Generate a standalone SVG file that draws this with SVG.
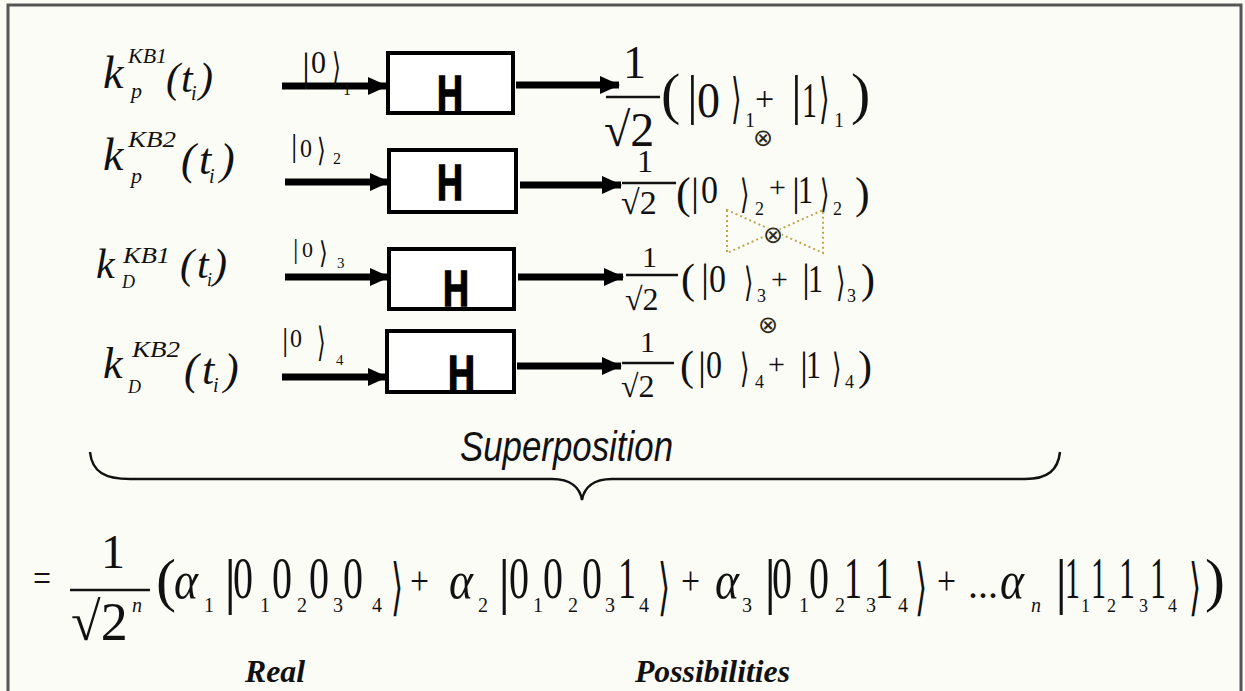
<svg xmlns="http://www.w3.org/2000/svg" width="1245" height="691" viewBox="0 0 1245 691">
<style>
.m{font-family:"Liberation Serif","DejaVu Serif",serif;fill:#111}
.i{font-style:italic}
.b{font-weight:bold}
.ab{font-family:"DejaVu Serif",serif;fill:#111}
.h{font-family:"Liberation Sans",Arial,sans-serif;font-weight:bold;fill:#000;stroke:#000;stroke-width:1.5}
.box{fill:#fff;stroke:#000;stroke-width:4}
.arr{stroke:#000;stroke-width:7;fill:none}
.fr{stroke:#111;stroke-width:2.5}
.ot{font-family:"DejaVu Sans",sans-serif;fill:#2e2a18}
</style>
<defs>
<marker id="ah" markerUnits="userSpaceOnUse" markerWidth="20" markerHeight="20" refX="19" refY="9" orient="auto">
<path d="M0,0 L20,9 L0,18 z" fill="#000"/>
</marker>
</defs>
<rect x="0" y="0" width="1245" height="691" fill="#fcfcf7"/>
<path d="M8,695 V5 H1241 V695" fill="none" stroke="#555" stroke-width="3"/>

<g id="label-1">
<text class="m i" x="103" y="88" font-size="46">k</text>
<text class="m i" x="128" y="63" font-size="21" textLength="39" lengthAdjust="spacingAndGlyphs">KB1</text>
<text class="m i" x="131" y="98" font-size="22">p</text>
<text class="m i" x="166" y="92" font-size="42">(</text>
<text class="m i" x="181" y="92" font-size="42">t</text>
<text class="m i" x="191" y="100" font-size="20">i</text>
<text class="m i" x="199" y="92" font-size="42">)</text>
</g>
<g id="label-2">
<text class="m i" x="103" y="170" font-size="46">k</text>
<text class="m i" x="128" y="147" font-size="23" textLength="48" lengthAdjust="spacingAndGlyphs">KB2</text>
<text class="m i" x="131" y="183" font-size="22">p</text>
<text class="m i" x="181" y="174" font-size="44">(</text>
<text class="m i" x="199" y="174" font-size="44">t</text>
<text class="m i" x="209" y="183" font-size="20">i</text>
<text class="m i" x="220" y="174" font-size="44">)</text>
</g>
<g id="label-3">
<text class="m i" x="96" y="278" font-size="42">k</text>
<text class="m i" x="123" y="263" font-size="23" textLength="47" lengthAdjust="spacingAndGlyphs">KB1</text>
<text class="m i" x="122" y="288" font-size="18">D</text>
<text class="m i" x="180" y="278" font-size="42">(</text>
<text class="m i" x="197" y="278" font-size="42">t</text>
<text class="m i" x="207" y="286" font-size="18">i</text>
<text class="m i" x="213" y="278" font-size="42">)</text>
</g>
<g id="label-4">
<text class="m i" x="103" y="378" font-size="44">k</text>
<text class="m i" x="132" y="357" font-size="23" textLength="48" lengthAdjust="spacingAndGlyphs">KB2</text>
<text class="m i" x="128" y="393" font-size="18">D</text>
<text class="m i" x="184" y="384" font-size="44">(</text>
<text class="m i" x="202" y="384" font-size="44">t</text>
<text class="m i" x="213" y="392" font-size="20">i</text>
<text class="m i" x="224" y="384" font-size="44">)</text>
</g>

<g id="connectors">
<line class="arr" x1="282" y1="86" x2="387" y2="86" marker-end="url(#ah)"/>
<line class="arr" x1="285" y1="182" x2="389" y2="182" marker-end="url(#ah)"/>
<line class="arr" x1="285" y1="277" x2="389" y2="277" marker-end="url(#ah)"/>
<line class="arr" x1="282" y1="377" x2="387" y2="377" marker-end="url(#ah)"/>
<line class="arr" x1="516" y1="85" x2="619" y2="85" marker-end="url(#ah)"/>
<line class="arr" x1="520" y1="185" x2="621" y2="185" marker-end="url(#ah)"/>
<line class="arr" x1="518" y1="277" x2="623" y2="277" marker-end="url(#ah)"/>
<line class="arr" x1="517" y1="366" x2="621" y2="366" marker-end="url(#ah)"/>
<g id="ket-in-1">
<text class="m" x="302" y="80" font-size="40">|</text>
<text class="m" x="311" y="73" font-size="32" textLength="15" lengthAdjust="spacingAndGlyphs">0</text>
<text class="ab" transform="translate(332,80) scale(0.6,1)" font-size="38">⟩</text>
<text class="m" x="343" y="95" font-size="16">1</text>
</g>
<g id="ket-in-2">
<text class="m" x="291" y="156" font-size="32">|</text>
<text class="m" x="300" y="157" font-size="26" textLength="12" lengthAdjust="spacingAndGlyphs">0</text>
<text class="ab" transform="translate(317,161) scale(0.7,1)" font-size="32">⟩</text>
<text class="m" x="333" y="164" font-size="16">2</text>
</g>
<g id="ket-in-3">
<text class="m" x="293" y="258" font-size="27">|</text>
<text class="m" x="302" y="257" font-size="22" textLength="11" lengthAdjust="spacingAndGlyphs">0</text>
<text class="ab" transform="translate(319,263) scale(0.75,1)" font-size="30">⟩</text>
<text class="m" x="337" y="268" font-size="15">3</text>
</g>
<g id="ket-in-4">
<text class="m" x="282" y="350" font-size="32">|</text>
<text class="m" x="290" y="347" font-size="26" textLength="12" lengthAdjust="spacingAndGlyphs">0</text>
<text class="ab" transform="translate(317,356) scale(0.55,1)" font-size="40">⟩</text>
<text class="m" x="336" y="365" font-size="15">4</text>
</g>
</g>

<g id="gate-1"><rect class="box" x="388" y="53" width="125" height="60"/><text class="h" x="437" y="111" font-size="50" textLength="26" lengthAdjust="spacingAndGlyphs">H</text></g>
<g id="gate-2"><rect class="box" x="389" y="150" width="127" height="62"/><text class="h" x="437" y="200" font-size="50" textLength="26" lengthAdjust="spacingAndGlyphs">H</text></g>
<g id="gate-3"><rect class="box" x="389" y="249" width="125" height="60"/><text class="h" x="443" y="306" font-size="50" textLength="26" lengthAdjust="spacingAndGlyphs">H</text></g>
<g id="gate-4"><rect class="box" x="387" y="331" width="127" height="61"/><text class="h" x="448" y="391" font-size="50" textLength="27" lengthAdjust="spacingAndGlyphs">H</text></g>

<g id="state-1">
<text class="m" x="623" y="78" font-size="46">1</text>
<line class="fr" x1="606" y1="97" x2="660" y2="97" stroke-width="3"/>
<text class="m" x="604" y="146" font-size="48">√2</text>
<text class="m" x="661" y="113" font-size="58">(</text>
<text class="m" x="687" y="113" font-size="54">|</text>
<text class="m" x="697" y="117" font-size="50" textLength="23" lengthAdjust="spacingAndGlyphs">0</text>
<text class="ab" transform="translate(731,117) scale(0.5,1)" font-size="54">⟩</text>
<text class="m" x="745" y="127" font-size="20">1</text>
<text class="m" x="755" y="110" font-size="34">+</text>
<text class="m" x="791" y="113" font-size="54">|</text>
<text class="m" x="802" y="117" font-size="50" textLength="15" lengthAdjust="spacingAndGlyphs">1</text>
<text class="ab" transform="translate(819,117) scale(0.5,1)" font-size="54">⟩</text>
<text class="m" x="834" y="127" font-size="20">1</text>
<text class="m" x="851" y="113" font-size="58">)</text>
</g>
<g id="state-2">
<text class="m" x="637" y="172" font-size="32">1</text>
<line class="fr" x1="622" y1="183" x2="676" y2="183"/>
<text class="m" x="621" y="214" font-size="34">√2</text>
<text class="m" x="676" y="208" font-size="44">(</text>
<text class="m" x="691" y="205" font-size="40">|</text>
<text class="m" x="701" y="203" font-size="40" textLength="17" lengthAdjust="spacingAndGlyphs">0</text>
<text class="ab" transform="translate(740,208) scale(0.6,1)" font-size="40">⟩</text>
<text class="m" x="755" y="215" font-size="18">2</text>
<text class="m" x="769" y="197" font-size="30">+</text>
<text class="m" x="792" y="205" font-size="40">|</text>
<text class="m" x="798" y="203" font-size="40" textLength="15" lengthAdjust="spacingAndGlyphs">1</text>
<text class="ab" transform="translate(820,208) scale(0.6,1)" font-size="40">⟩</text>
<text class="m" x="833" y="215" font-size="18">2</text>
<text class="m" x="855" y="208" font-size="44">)</text>
</g>
<g id="state-3">
<text class="m" x="642" y="267" font-size="30">1</text>
<line class="fr" x1="626" y1="275" x2="678" y2="275"/>
<text class="m" x="625" y="310" font-size="32">√2</text>
<text class="m" x="681" y="293" font-size="42">(</text>
<text class="m" x="701" y="291" font-size="40">|</text>
<text class="m" x="709" y="292" font-size="40" textLength="17" lengthAdjust="spacingAndGlyphs">0</text>
<text class="ab" transform="translate(744,296) scale(0.6,1)" font-size="40">⟩</text>
<text class="m" x="757" y="302" font-size="18">3</text>
<text class="m" x="771" y="289" font-size="30">+</text>
<text class="m" x="802" y="291" font-size="40">|</text>
<text class="m" x="808" y="292" font-size="40" textLength="15" lengthAdjust="spacingAndGlyphs">1</text>
<text class="ab" transform="translate(836,296) scale(0.6,1)" font-size="40">⟩</text>
<text class="m" x="847" y="302" font-size="18">3</text>
<text class="m" x="861" y="293" font-size="42">)</text>
</g>
<g id="state-4">
<text class="m" x="640" y="352" font-size="30">1</text>
<line class="fr" x1="622" y1="363" x2="674" y2="363"/>
<text class="m" x="621" y="397" font-size="32">√2</text>
<text class="m" x="680" y="380" font-size="42">(</text>
<text class="m" x="698" y="379" font-size="40">|</text>
<text class="m" x="706" y="378" font-size="40" textLength="16" lengthAdjust="spacingAndGlyphs">0</text>
<text class="ab" transform="translate(740,382) scale(0.6,1)" font-size="40">⟩</text>
<text class="m" x="755" y="388" font-size="18">4</text>
<text class="m" x="768" y="374" font-size="30">+</text>
<text class="m" x="800" y="379" font-size="40">|</text>
<text class="m" x="806" y="378" font-size="40" textLength="15" lengthAdjust="spacingAndGlyphs">1</text>
<text class="ab" transform="translate(832,382) scale(0.6,1)" font-size="40">⟩</text>
<text class="m" x="845" y="388" font-size="18">4</text>
<text class="m" x="858" y="380" font-size="42">)</text>
</g>

<g id="tensor">
<path d="M727,210 V253 L823,210 V253 Z" fill="none" stroke="#b8a84e" stroke-width="2" stroke-dasharray="2 3"/>
<circle cx="773" cy="235" r="9" fill="#fcfcf7"/>
<text class="ot" x="763" y="146" font-size="24" text-anchor="middle">⊗</text>
<text class="ot" x="773" y="243" font-size="24" text-anchor="middle">⊗</text>
<text class="ot" x="768" y="333" font-size="24" text-anchor="middle">⊗</text>
</g>

<g id="superposition">
<path d="M90,452 C92,472 105,479 130,479 L552,479 C571,479 580,488 582,500 C584,488 593,479 612,479 L1025,479 C1048,479 1058,470 1060,452" fill="none" stroke="#111" stroke-width="2.5"/>
<text x="460" y="461" font-family="Liberation Sans, Arial, sans-serif" font-style="italic" font-size="42" fill="#111" textLength="213" lengthAdjust="spacingAndGlyphs">Superposition</text>
</g>

<g id="equation">
<text class="m" x="33" y="592" font-size="40" textLength="18" lengthAdjust="spacingAndGlyphs">=</text>
<text class="m" x="101" y="568" font-size="48">1</text>
<line class="fr" x1="70" y1="590" x2="150" y2="590" stroke-width="3"/>
<text class="m" x="71" y="640" font-size="54">√2</text>
<text class="m i" x="132" y="612" font-size="20">n</text>
<text class="m" x="156" y="600" font-size="60">(</text>
<text class="m i" x="174" y="598" font-size="52" textLength="24" lengthAdjust="spacingAndGlyphs">α</text>
<text class="m" x="204" y="612" font-size="20">1</text>
<text class="m" x="224" y="602" font-size="62">|</text>
<text class="m" x="233" y="598" font-size="60" textLength="20" lengthAdjust="spacingAndGlyphs">0</text>
<text class="m" x="260" y="612" font-size="20">1</text>
<text class="m" x="272" y="598" font-size="60" textLength="20" lengthAdjust="spacingAndGlyphs">0</text>
<text class="m" x="297" y="612" font-size="20">2</text>
<text class="m" x="309" y="598" font-size="60" textLength="20" lengthAdjust="spacingAndGlyphs">0</text>
<text class="m" x="333" y="612" font-size="20">3</text>
<text class="m" x="343" y="598" font-size="60" textLength="20" lengthAdjust="spacingAndGlyphs">0</text>
<text class="m" x="372" y="612" font-size="20">4</text>
<text class="ab" transform="translate(391,608) scale(0.5,1)" font-size="62">⟩</text>
<text class="m" x="410" y="594" font-size="40" textLength="19" lengthAdjust="spacingAndGlyphs">+</text>
<text class="m i" x="449" y="598" font-size="52" textLength="24" lengthAdjust="spacingAndGlyphs">α</text>
<text class="m" x="478" y="612" font-size="20">2</text>
<text class="m" x="498" y="602" font-size="62">|</text>
<text class="m" x="509" y="598" font-size="60" textLength="20" lengthAdjust="spacingAndGlyphs">0</text>
<text class="m" x="533" y="612" font-size="20">1</text>
<text class="m" x="543" y="598" font-size="60" textLength="20" lengthAdjust="spacingAndGlyphs">0</text>
<text class="m" x="568" y="612" font-size="20">2</text>
<text class="m" x="582" y="598" font-size="60" textLength="20" lengthAdjust="spacingAndGlyphs">0</text>
<text class="m" x="605" y="612" font-size="20">3</text>
<text class="m" x="618" y="598" font-size="60" textLength="18" lengthAdjust="spacingAndGlyphs">1</text>
<text class="m" x="639" y="612" font-size="20">4</text>
<text class="ab" transform="translate(658,608) scale(0.5,1)" font-size="62">⟩</text>
<text class="m" x="681" y="594" font-size="40" textLength="19" lengthAdjust="spacingAndGlyphs">+</text>
<text class="m i" x="715" y="598" font-size="52" textLength="24" lengthAdjust="spacingAndGlyphs">α</text>
<text class="m" x="742" y="612" font-size="20">3</text>
<text class="m" x="764" y="602" font-size="62">|</text>
<text class="m" x="772" y="598" font-size="60" textLength="20" lengthAdjust="spacingAndGlyphs">0</text>
<text class="m" x="799" y="612" font-size="20">1</text>
<text class="m" x="809" y="598" font-size="60" textLength="20" lengthAdjust="spacingAndGlyphs">0</text>
<text class="m" x="835" y="612" font-size="20">2</text>
<text class="m" x="844" y="598" font-size="60" textLength="18" lengthAdjust="spacingAndGlyphs">1</text>
<text class="m" x="866" y="612" font-size="20">3</text>
<text class="m" x="875" y="598" font-size="60" textLength="18" lengthAdjust="spacingAndGlyphs">1</text>
<text class="m" x="898" y="612" font-size="20">4</text>
<text class="ab" transform="translate(915,608) scale(0.5,1)" font-size="62">⟩</text>
<text class="m" x="937" y="594" font-size="40" textLength="19" lengthAdjust="spacingAndGlyphs">+</text>
<text class="m" x="968" y="598" font-size="40" textLength="30" lengthAdjust="spacingAndGlyphs">...</text>
<text class="m i" x="1000" y="598" font-size="52" textLength="24" lengthAdjust="spacingAndGlyphs">α</text>
<text class="m i" x="1031" y="612" font-size="20">n</text>
<text class="m" x="1055" y="602" font-size="62">|</text>
<text class="m" x="1065" y="598" font-size="60" textLength="15" lengthAdjust="spacingAndGlyphs">1</text>
<text class="m" x="1081" y="612" font-size="18">1</text>
<text class="m" x="1091" y="598" font-size="60" textLength="15" lengthAdjust="spacingAndGlyphs">1</text>
<text class="m" x="1107" y="612" font-size="18">2</text>
<text class="m" x="1119" y="598" font-size="60" textLength="16" lengthAdjust="spacingAndGlyphs">1</text>
<text class="m" x="1139" y="612" font-size="18">3</text>
<text class="m" x="1150" y="598" font-size="60" textLength="16" lengthAdjust="spacingAndGlyphs">1</text>
<text class="m" x="1168" y="612" font-size="18">4</text>
<text class="ab" transform="translate(1189,608) scale(0.5,1)" font-size="62">⟩</text>
<text class="m" x="1205" y="600" font-size="60">)</text>
</g>

<g id="captions">
<text class="m i b" x="245" y="682" font-size="32" textLength="60" lengthAdjust="spacingAndGlyphs">Real</text>
<text class="m i b" x="635" y="682" font-size="32" textLength="155" lengthAdjust="spacingAndGlyphs">Possibilities</text>
</g>
</svg>
